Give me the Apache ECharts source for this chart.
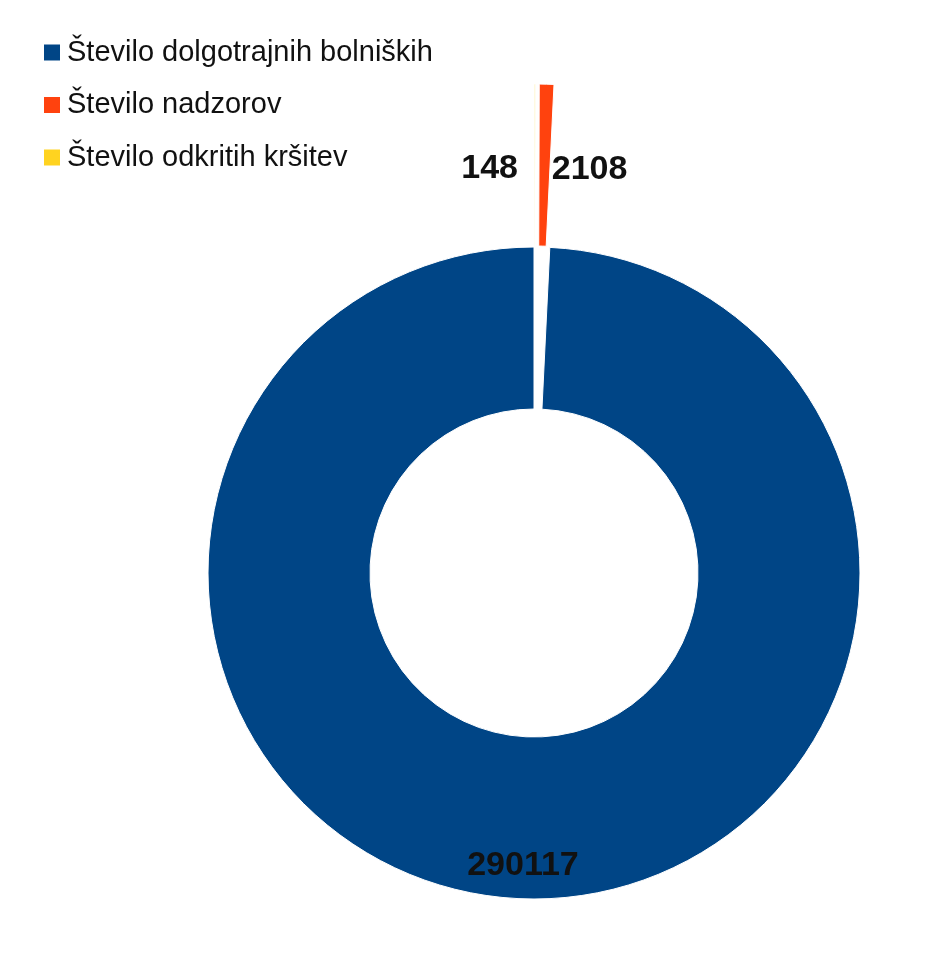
<!DOCTYPE html>
<html>
<head>
<meta charset="utf-8">
<script src="https://cdn.jsdelivr.net/npm/echarts@6/dist/echarts.min.js"></script>
<style>
  html, body { margin: 0; padding: 0; background: #fff; }
  #chart { width: 940px; height: 958px; }
</style>
</head>
<body>
<div id="chart"></div>
<script>
// podatki
var categories = ['Število dolgotrajnih bolniških', 'Število nadzorov', 'Število odkritih kršitev'];
var values = [290117, 2108, 148];
var exploded = [false, true, true];

var colors = ['#004586', '#ff420e', '#ffd320'];
// premik oznak glede na privzeti položaj 'inside'
var labelDx = [-5, 45, -45];
var labelDy = [45, 7, 7];

var chart = echarts.init(document.getElementById('chart'));

var seriesData = categories.map(function (name, i) {
  return {
    name: name,
    value: values[i],
    selected: exploded[i],
    itemStyle: { color: colors[i] }
  };
});

var option = {
  animation: false,
  legend: {
    orient: 'vertical',
    left: 37,
    top: 33,
    icon: 'rect',
    itemWidth: 18,
    itemHeight: 18,
    itemGap: 23.5,
    selectedMode: false,
    textStyle: {
      fontFamily: 'Liberation Sans',
      fontSize: 29,
      lineHeight: 28,
      color: '#111',
      padding: [0, 0, 0, 1]
    },
    data: categories
  },
  series: [
    {
      type: 'pie',
      center: [534, 573],
      radius: [164, 326],
      startAngle: 90,
      clockwise: false,
      selectedMode: 'multiple',
      selectedOffset: 163,
      avoidLabelOverlap: false,
      itemStyle: { borderColor: '#fff', borderWidth: 1 },
      emphasis: { disabled: true },
      select: { itemStyle: { borderColor: '#fff', borderWidth: 1 } },
      label: {
        show: true,
        position: 'inside',
        formatter: '{c}',
        fontFamily: 'Liberation Sans',
        fontWeight: 'bold',
        fontSize: 34,
        color: '#111'
      },
      labelLine: { show: false },
      labelLayout: function (params) {
        return {
          dx: labelDx[params.dataIndex],
          dy: labelDy[params.dataIndex],
          hideOverlap: false
        };
      },
      data: seriesData
    }
  ]
};

chart.setOption(option);
</script>
</body>
</html>
